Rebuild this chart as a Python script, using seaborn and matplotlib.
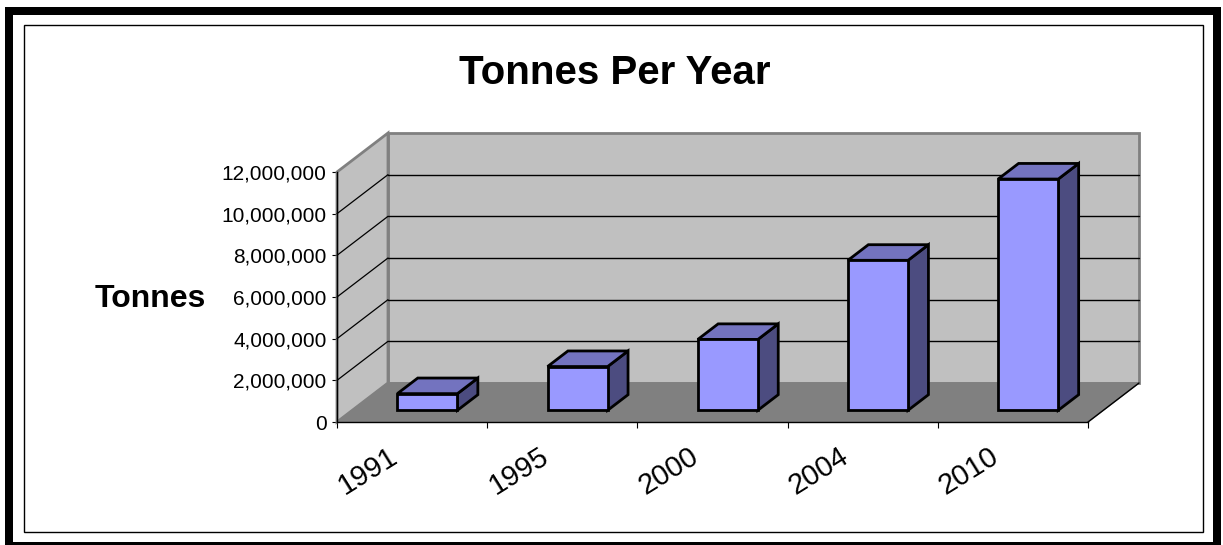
import matplotlib
matplotlib.use('Agg')
import matplotlib.pyplot as plt
import seaborn as sns
import pandas as pd
import numpy as np
from matplotlib.patches import Polygon, Rectangle
from matplotlib.lines import Line2D
from matplotlib.ticker import FuncFormatter

# ---- data ----
years = ['1991', '1995', '2000', '2004', '2010']
tonnes = [800000, 2100000, 3400000, 7200000, 11100000]
yticks = [0, 2000000, 4000000, 6000000, 8000000, 10000000, 12000000]
title_text = 'Tonnes Per Year'
ylabel_text = 'Tonnes'

sns.set_style('white')
plt.rcParams['font.family'] = ['Liberation Sans', 'DejaVu Sans']
plt.rcParams['text.color'] = 'black'
plt.rcParams['xtick.labelcolor'] = 'black'
plt.rcParams['ytick.labelcolor'] = 'black'
plt.rcParams['axes.labelcolor'] = 'black'

W, H = 1223, 545
fig = plt.figure(figsize=(W / 100, H / 100), dpi=100)
ax = fig.add_axes([337 / W, 1 - 422 / H, 751 / W, 250 / H])
ax.patch.set_visible(False)

df = pd.DataFrame({'year': years, 'tonnes': tonnes})
sns.barplot(data=df, x='year', y='tonnes', ax=ax, width=0.4, color='#9999FF',
            saturation=1, edgecolor='black', linewidth=2.0, zorder=5)

ymax = yticks[-1]
ax.set_xlim(-0.5, len(years) - 0.5)
ax.set_ylim(0, ymax)

# 3D depth offset in data units (front plane -> back wall)
px_per_cat = 751 / len(years)
px_per_val = 250 / ymax
DX = 51 / px_per_cat
DY = 39 / px_per_val
f0, f1 = 0.3, 0.7

x0w, x1w = -0.5, len(years) - 0.5
wall_c = '#C0C0C0'
floor_c = '#808080'
edge_c = '#808080'

# back wall
ax.add_patch(Polygon([(x0w + DX, DY), (x1w + DX, DY), (x1w + DX, ymax + DY), (x0w + DX, ymax + DY)],
                     closed=True, fc=wall_c, ec=edge_c, lw=2, clip_on=False, zorder=0.5))
# left wall
ax.add_patch(Polygon([(x0w, 0), (x0w + DX, DY), (x0w + DX, ymax + DY), (x0w, ymax)],
                     closed=True, fc=wall_c, ec=edge_c, lw=2, clip_on=False, zorder=0.6))
# floor
ax.add_patch(Polygon([(x0w, 0), (x1w, 0), (x1w + DX, DY), (x0w + DX, DY)],
                     closed=True, fc=floor_c, ec=floor_c, lw=1, clip_on=False, zorder=0.7))
ax.add_line(Line2D([x1w, x1w + DX], [0, DY], color='black', lw=1, clip_on=False, zorder=0.8))

# gridlines on back wall + diagonals on left wall
for t in yticks[1:-1]:
    ax.add_line(Line2D([x0w + DX, x1w + DX], [t + DY, t + DY], color='black', lw=1,
                       clip_on=False, zorder=1))
    ax.add_line(Line2D([x0w, x0w + DX], [t, t + DY], color='black', lw=0.9,
                       clip_on=False, zorder=1))

# bars: shift front face into depth, then add side and top faces
for p in list(ax.patches):
    if not isinstance(p, Rectangle):
        continue
    x0 = p.get_x()
    w = p.get_width()
    h = p.get_height()
    p.set_x(x0 + f0 * DX)
    p.set_y(f0 * DY)
    p.set_clip_on(False)
    p.set_joinstyle('miter')
    side = [(x0 + w + f0 * DX, f0 * DY), (x0 + w + f1 * DX, f1 * DY),
            (x0 + w + f1 * DX, h + f1 * DY), (x0 + w + f0 * DX, h + f0 * DY)]
    top = [(x0 + f0 * DX, h + f0 * DY), (x0 + w + f0 * DX, h + f0 * DY),
           (x0 + w + f1 * DX, h + f1 * DY), (x0 + f1 * DX, h + f1 * DY)]
    ax.add_patch(Polygon(side, closed=True, fc='#4C4C80', ec='black', lw=2.0,
                         clip_on=False, zorder=4.5, joinstyle='miter'))
    ax.add_patch(Polygon(top, closed=True, fc='#7373BF', ec='black', lw=2.0,
                         clip_on=False, zorder=4.5, joinstyle='miter'))

# axes styling
for s in ['top', 'right']:
    ax.spines[s].set_visible(False)
for s in ['left', 'bottom']:
    ax.spines[s].set_color('black')
    ax.spines[s].set_linewidth(1)
    ax.spines[s].set_zorder(2)

ax.set_yticks(yticks)
ax.yaxis.set_major_formatter(FuncFormatter(lambda v, pos: f'{v:,.0f}'))
ax.tick_params(axis='y', direction='out', length=3.6, width=0.8, color='black',
               labelsize=15, pad=4, left=True, labelcolor='black')
ax.set_xticks(np.arange(-0.5, len(years), 1.0))
ax.set_xticklabels([])
ax.tick_params(axis='x', direction='out', length=4.3, width=0.8, color='black', bottom=True)
ax.set_xlabel('')
ax.set_ylabel('')

for i, yr in enumerate(years):
    ax.annotate(yr, xy=(i, 0), xycoords=('data', 'axes fraction'),
                xytext=(-9 * 0.72, -20 * 0.72), textcoords='offset points',
                ha='right', va='top', rotation=32, fontsize=21, color='black')

# titles
fig.text(615 / W, 1 - 84 / H, title_text, ha='center', va='baseline',
         fontsize=29, fontweight='bold', color='black')
fig.text(150 / W, 1 - 307 / H, ylabel_text, ha='center', va='baseline',
         fontsize=23, fontweight='bold', color='black')

# frames
fig.add_artist(Rectangle((24 / W, 1 - 532 / H), (1203 - 24) / W, (532 - 25) / H,
                         fill=False, ec='black', lw=1.0, transform=fig.transFigure))
fig.add_artist(Rectangle((9 / W, 1 - 545.7 / H), (1217 - 9) / W, (545.7 - 11) / H,
                         fill=False, ec='black', lw=8 * 0.72, transform=fig.transFigure))

fig.savefig('out.png', dpi=100)
